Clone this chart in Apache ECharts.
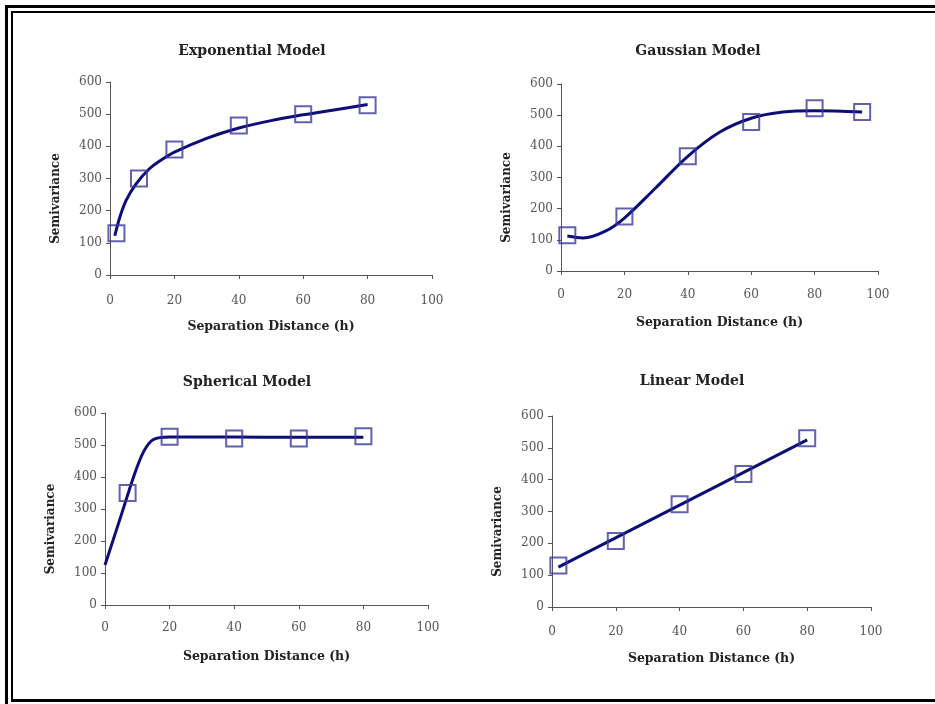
<!DOCTYPE html>
<html>
<head>
<meta charset="utf-8">
<script src="https://cdn.jsdelivr.net/npm/echarts@6/dist/echarts.min.js"></script>
<style>
html,body{margin:0;padding:0;background:#fff;}
#c{width:935px;height:704px;}
</style>
</head>
<body>
<div id="c"></div>
<script>
// ---- data ----
const panelTitles = ['Exponential Model', 'Gaussian Model', 'Spherical Model', 'Linear Model'];
const xAxisTitle = 'Separation Distance (h)';
const yAxisTitle = 'Semivariance';

const expX = [2, 9, 20, 40, 60, 80];
const expY = [130, 300, 390, 465, 500, 528];
const expCurveX = [1.5, 3, 5, 8, 12, 16, 20, 30, 40, 50, 60, 70, 80];
const expCurveY = [122, 178, 232, 282, 328, 358, 382, 425, 457, 480, 498, 514, 530];

const gauX = [2, 20, 40, 60, 80, 95];
const gauY = [115, 175, 368, 478, 522, 510];
const gauCurveX = [2, 7, 14, 20, 30, 40, 50, 60, 70, 80, 95];
const gauCurveY = [112, 106, 128, 170, 268, 368, 445, 490, 510, 514, 510];

const sphX = [7, 20, 40, 60, 80];
const sphY = [350, 526, 520, 520, 527];
const sphCurveX = [0, 5, 9, 12, 15, 20, 40, 60, 80];
const sphCurveY = [125, 280, 405, 480, 517, 525, 525, 524, 524];

const linX = [2, 20, 40, 60, 80];
const linY = [130, 207, 323, 418, 530];
const linCurveX = [2, 80];
const linCurveY = [125, 525];

const xTicks = [0, 20, 40, 60, 80, 100];
const yTicks = [0, 100, 200, 300, 400, 500, 600];

// ---- layout / style ----
const grids = [
  {left: 110, top: 82, width: 322, height: 193, titleX: 247, titleY: 39, labelMargin: 20},
  {left: 561, top: 84, width: 317, height: 187, titleX: 693, titleY: 39, labelMargin: 18},
  {left: 105, top: 413, width: 323, height: 192, titleX: 242, titleY: 370, labelMargin: 17},
  {left: 552, top: 416, width: 319, height: 191, titleX: 687, titleY: 369, labelMargin: 19}
];
const pts = [[expX, expY], [gauX, gauY], [sphX, sphY], [linX, linY]];
const curves = [[expCurveX, expCurveY], [gauCurveX, gauCurveY], [sphCurveX, sphCurveY], [linCurveX, linCurveY]];
const smoothness = [0.35, 0.35, 0.3, 0];

const FONT = 'DejaVu Serif';
const axisColor = '#555';
const lineColor = '#0d0d78';
const markerColor = '#3a3a9c';

const zip = (a, b) => a.map((v, i) => [v, b[i]]);

const option = {
  backgroundColor: '#fff',
  animation: false,
  title: grids.map((g, i) => ({
    text: panelTitles[i],
    left: g.titleX,
    top: g.titleY,
    textAlign: 'center',
    textStyle: {fontFamily: FONT, fontWeight: 'bold', fontSize: 14, color: '#222'}
  })),
  grid: grids.map(g => ({left: g.left, top: g.top, width: g.width, height: g.height, containLabel: false})),
  xAxis: grids.map((g, i) => ({
    type: 'value', gridIndex: i, min: xTicks[0], max: xTicks[xTicks.length - 1], interval: xTicks[1] - xTicks[0],
    name: xAxisTitle, nameLocation: 'middle', nameGap: 45,
    nameTextStyle: {fontFamily: FONT, fontWeight: 'bold', fontSize: 12.5, color: '#222'},
    axisLine: {show: true, onZero: false, lineStyle: {color: axisColor, width: 1}},
    axisTick: {show: true, length: 4, lineStyle: {color: axisColor}},
    axisLabel: {fontFamily: FONT, fontSize: 12, color: '#555', margin: g.labelMargin},
    splitLine: {show: false}
  })),
  yAxis: grids.map((g, i) => ({
    type: 'value', gridIndex: i, min: yTicks[0], max: yTicks[yTicks.length - 1], interval: yTicks[1] - yTicks[0],
    name: yAxisTitle, nameLocation: 'middle', nameGap: 48,
    nameTextStyle: {fontFamily: FONT, fontWeight: 'bold', fontSize: 12, color: '#222', padding: [0, 40, 0, 0]},
    axisLine: {show: true, onZero: false, lineStyle: {color: axisColor, width: 1}},
    axisTick: {show: true, length: 4, lineStyle: {color: axisColor}},
    axisLabel: {fontFamily: FONT, fontSize: 12, color: '#555', margin: 8},
    splitLine: {show: false}
  })),
  series: [].concat(
    curves.map((c, i) => ({
      type: 'line', xAxisIndex: i, yAxisIndex: i,
      data: zip(c[0], c[1]),
      smooth: smoothness[i],
      showSymbol: false, symbol: 'none',
      lineStyle: {color: lineColor, width: 3},
      z: 2
    })),
    pts.map((p, i) => ({
      type: 'scatter', xAxisIndex: i, yAxisIndex: i,
      data: zip(p[0], p[1]),
      symbol: 'rect', symbolSize: 16,
      itemStyle: {color: 'rgba(0,0,0,0)', borderColor: markerColor, borderWidth: 2},
      z: 3
    }))
  ),
  graphic: [
    {type: 'rect', shape: {x: 5, y: 5, width: 940, height: 3}, style: {fill: '#000'}, silent: true},
    {type: 'rect', shape: {x: 5, y: 5, width: 3, height: 699}, style: {fill: '#000'}, silent: true},
    {type: 'rect', shape: {x: 11, y: 11, width: 930, height: 2}, style: {fill: '#000'}, silent: true},
    {type: 'rect', shape: {x: 11, y: 11, width: 2, height: 690}, style: {fill: '#000'}, silent: true},
    {type: 'rect', shape: {x: 11, y: 699, width: 930, height: 3}, style: {fill: '#000'}, silent: true}
  ]
};

const chart = echarts.init(document.getElementById('c'), null, {renderer: 'canvas'});
chart.setOption(option);
</script>
</body>
</html>
